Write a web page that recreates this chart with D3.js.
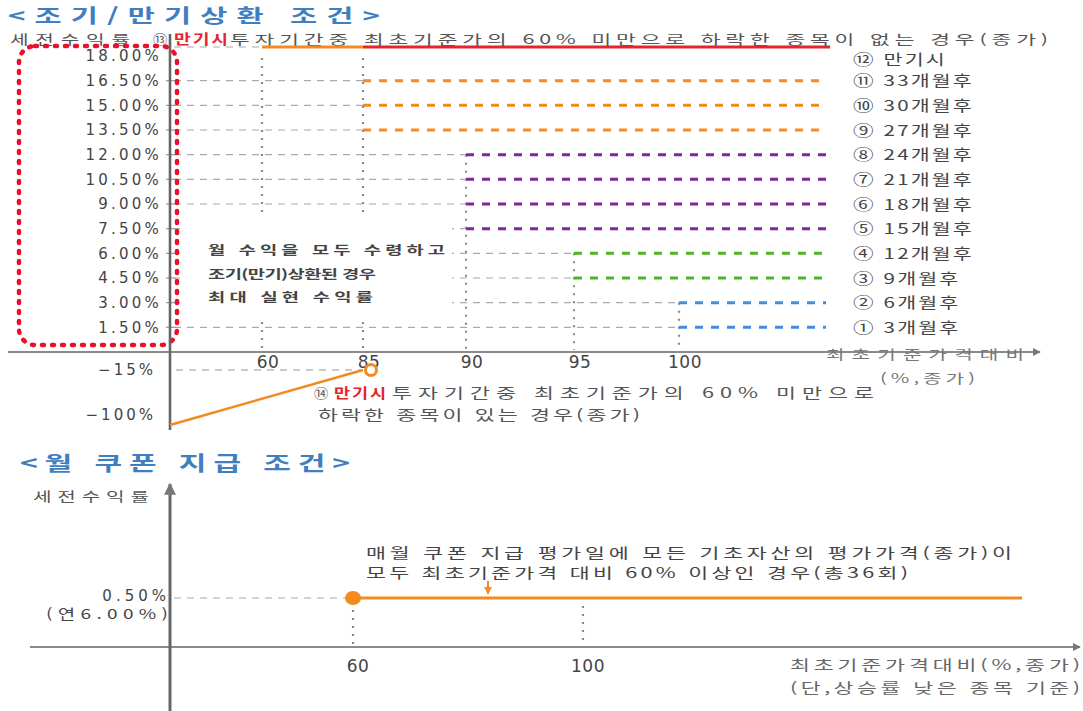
<!DOCTYPE html>
<html lang="ko">
<head>
<meta charset="utf-8">
<script src="https://d3js.org/d3.v7.min.js"></script>
<title>조기/만기상환 조건</title>
<style>
  body { margin: 0; background: #fff; }
  svg { display: block; font-family: "Noto Sans CJK KR", "DejaVu Sans", sans-serif; }
  .num { font-family: "DejaVu Sans", sans-serif; }
</style>
</head>
<body>
<div id="chart"></div>
<script>
// ---- data ----
const xTicks = [60, 85, 90, 95, 100];
const rowLabels = ["① 3개월후", "② 6개월후", "③ 9개월후", "④ 12개월후", "⑤ 15개월후", "⑥ 18개월후",
  "⑦ 21개월후", "⑧ 24개월후", "⑨ 27개월후", "⑩ 30개월후", "⑪ 33개월후", "⑫ 만기시"];
const rowYields = [1.5, 3, 4.5, 6, 7.5, 9, 10.5, 12, 13.5, 15, 16.5, 18];
const rowBarriers = [100, 100, 95, 95, 90, 90, 90, 90, 85, 85, 85, 60];
const rowColors = ["#3c8fd9", "#3c8fd9", "#4cb72a", "#4cb72a", "#7a2a9e", "#7a2a9e",
  "#7a2a9e", "#7a2a9e", "#f4891f", "#f4891f", "#f4891f", "#e3262b"];
const yTickLabels = ["1.50%", "3.00%", "4.50%", "6.00%", "7.50%", "9.00%", "10.50%", "12.00%",
  "13.50%", "15.00%", "16.50%", "18.00%"];
const lossTicks = [-15, -100];
const lossTickLabels = ["−15%", "−100%"];
const lossLine = [[0, -100], [85, -15]];
const verticalX = [60, 85, 90, 95, 100];
const verticalTop = [18, 18, 12, 6, 3];
const xEnd = 130;

const couponTicks = [60, 100];
const couponLevel = 0.5;
const couponStart = 60;
const couponEnd = 180;

const W = 1083, H = 711;
const svg = d3.select("#chart").append("svg").attr("width", W).attr("height", H);

const defs = svg.append("defs");
function arrow(id, color) {
  defs.append("marker").attr("id", id).attr("viewBox", "0 0 10 10").attr("refX", 9).attr("refY", 5)
    .attr("markerWidth", 4).attr("markerHeight", 4).attr("orient", "auto")
    .append("path").attr("d", "M0,0L10,5L0,10z").attr("fill", color);
}
arrow("arrGrey", "#777");
arrow("arrOrange", "#f4891f");

// wide korean text: glyphs stretched, then spaced out to the wanted length
function label(px, py, str, o) {
  const s = o.stretch || 1.55;
  const t = svg.append("text")
    .attr("transform", `translate(${px},${py}) scale(${s},1)`)
    .attr("font-size", o.size).attr("fill", o.color || "#555")
    .attr("font-weight", o.bold ? "bold" : null)
    .attr("text-anchor", o.anchor || "start")
    .text(str);
  if (o.len) t.attr("textLength", o.len / s).attr("lengthAdjust", "spacing");
  return t;
}

// ================= top chart =================
const x = d3.scaleLinear().domain([0, 60, 85, 90, 95, 100, xEnd]).range([170, 262, 363, 466, 574, 679, 826]);
const y = d3.scaleLinear().domain([-100, -15, 0, 18]).range([425, 370, 352, 56]);
const topOffset = -9; // the 만기시 line sits above its tick row

label(8, 22.5, "<조기/만기상환 조건>", { size: 19, bold: true, color: "#3f7fc0", len: 372, stretch: 1.55 });

// header text
label(10, 44, "세전수익률", { size: 13, len: 120 });
label(153, 44, "⑬", { size: 13, stretch: 1.1 });
label(174, 44, "만기시", { size: 14, bold: true, color: "#e3262b", len: 54, stretch: 1.3 });
label(230, 44, "투자기간중 최초기준가의 60% 미만으로 하락한 종목이 없는 경우(종가)", { size: 13, len: 818, stretch: 1.65 });

const rows = rowYields.map((v, i) => ({ v, b: rowBarriers[i], c: rowColors[i], label: rowLabels[i], last: i === rowYields.length - 1 }));
const rowY = d => y(d.v) + (d.last ? topOffset : 0);

// vertical dotted barrier lines
svg.append("g").selectAll("line").data(verticalX).join("line")
  .attr("x1", d => x(d)).attr("x2", d => x(d))
  .attr("y1", (d, i) => y(verticalTop[i]) + (verticalTop[i] === 18 ? 2 : 0)).attr("y2", y(0) - 2)
  .attr("stroke", "#888").attr("stroke-width", 2.2).attr("stroke-dasharray", "2,6");

// grey guides from axis to barrier
svg.append("g").selectAll("line").data(rows).join("line")
  .attr("x1", x(0) + 4).attr("x2", d => x(d.b))
  .attr("y1", rowY).attr("y2", rowY)
  .attr("stroke", "#aaa").attr("stroke-width", 1.2).attr("stroke-dasharray", "7,6");

// white box behind the middle note
svg.append("rect").attr("x", 180).attr("y", 214).attr("width", 272).attr("height", 102).attr("fill", "#fff");
const note = ["월 수익을 모두 수령하고", "조기(만기)상환된 경우", "최대 실현 수익률"];
const noteLen = [237, 168, 165];
note.forEach((d, i) => label(208, 255 + i * 23.5, d, { size: 12.5, bold: true, color: "#444", len: noteLen[i], stretch: 1.5 }));

// coloured early-redemption lines
svg.append("g").selectAll("line").data(rows.filter(d => !d.last)).join("line")
  .attr("x1", d => x(d.b)).attr("x2", x(xEnd))
  .attr("y1", rowY).attr("y2", rowY)
  .attr("stroke", d => d.c).attr("stroke-width", 3).attr("stroke-dasharray", "8,8");

// maturity line: orange up to 85, red beyond
const mat = rows[rows.length - 1];
svg.append("line").attr("x1", x(mat.b)).attr("x2", x(85)).attr("y1", rowY(mat)).attr("y2", rowY(mat))
  .attr("stroke", "#f4891f").attr("stroke-width", 3);
svg.append("line").attr("x1", x(85)).attr("x2", x(xEnd) + 4).attr("y1", rowY(mat)).attr("y2", rowY(mat))
  .attr("stroke", "#e3262b").attr("stroke-width", 3);

// row labels on the right
svg.append("g").selectAll("text").data(rows).join("text")
  .attr("transform", d => `translate(853,${y(d.v) + (d.last ? 3 : 0)}) scale(1.42,1)`).attr("dy", "0.38em").attr("font-size", 14.5)
  .attr("letter-spacing", 1.5).attr("fill", "#444").text(d => d.label);

// y tick labels
svg.append("g").selectAll("text").data(rowYields).join("text")
  .attr("class", "num").attr("x", 162).attr("y", d => y(d)).attr("dy", "0.35em")
  .attr("text-anchor", "end").attr("font-size", 15).attr("letter-spacing", 3.2).attr("fill", "#444")
  .text((d, i) => yTickLabels[i]);
svg.append("g").selectAll("line").data(rowYields.slice(0, -1)).join("line")
  .attr("x1", 166).attr("x2", 176).attr("y1", d => y(d)).attr("y2", d => y(d))
  .attr("stroke", "#999").attr("stroke-width", 1.2);

// red dotted frame around the yields
svg.append("rect").attr("x", 19).attr("y", 46).attr("width", 158).attr("height", 299).attr("rx", 16)
  .attr("fill", "none").attr("stroke", "#e8102a").attr("stroke-width", 4.5)
  .attr("stroke-linecap", "round").attr("stroke-dasharray", "2,8");

// loss ticks
svg.append("g").selectAll("text").data(lossTicks).join("text")
  .attr("class", "num").attr("x", 156).attr("y", d => y(d) - (d < -50 ? 10 : 0)).attr("dy", "0.35em")
  .attr("text-anchor", "end").attr("font-size", 15).attr("letter-spacing", 3).attr("fill", "#444")
  .text((d, i) => lossTickLabels[i]);
svg.append("line").attr("x1", x(0) + 6).attr("x2", x(85)).attr("y1", y(-15)).attr("y2", y(-15))
  .attr("stroke", "#999").attr("stroke-width", 1.2).attr("stroke-dasharray", "7,6");

// axes
svg.append("line").attr("x1", 8).attr("x2", 1040).attr("y1", y(0)).attr("y2", y(0))
  .attr("stroke", "#8a8a8a").attr("stroke-width", 2).attr("marker-end", "url(#arrGrey)");
svg.append("line").attr("x1", x(0)).attr("x2", x(0)).attr("y1", 430).attr("y2", 34)
  .attr("stroke", "#666").attr("stroke-width", 2.6);

svg.append("g").selectAll("text").data(xTicks).join("text")
  .attr("class", "num").attr("x", d => x(d) + 6).attr("y", 368).attr("text-anchor", "middle")
  .attr("font-size", 17).attr("letter-spacing", 0.5).attr("fill", "#444").text(d => d);

label(826, 359, "최초기준가격대비", { size: 13, color: "#777", len: 198 });
label(880, 383, "(%,종가)", { size: 13, color: "#777", len: 95 });

// loss line
svg.append("path").datum(lossLine)
  .attr("d", d3.line().x(d => x(d[0])).y(d => y(d[1])))
  .attr("fill", "none").attr("stroke", "#f4891f").attr("stroke-width", 2.5);
svg.append("circle").attr("cx", x(85) + 8).attr("cy", y(-15)).attr("r", 5.5)
  .attr("fill", "#fff").attr("stroke", "#f4891f").attr("stroke-width", 3);

label(314, 398, "⑭", { size: 13, stretch: 1.1 });
label(334, 398, "만기시", { size: 14, bold: true, color: "#e3262b", len: 52, stretch: 1.25 });
label(392, 398, "투자기간중 최초기준가의 60% 미만으로", { size: 14, len: 482 });
label(318, 420, "하락한 종목이 있는 경우(종가)", { size: 14, len: 322 });

// ================= bottom chart =================
const x2 = d3.scaleLinear().domain([0, 60, 100, couponEnd]).range([170, 353, 583, 1022]);
const y2 = d3.scaleLinear().domain([0, couponLevel]).range([647, 598]);

label(20, 471, "<월 쿠폰 지급 조건>", { size: 20, bold: true, color: "#3f7fc0", len: 330, stretch: 1.5 });
label(33, 501, "세전수익률", { size: 13, len: 116 });

svg.append("line").attr("x1", 30).attr("x2", 1080).attr("y1", y2(0)).attr("y2", y2(0))
  .attr("stroke", "#8a8a8a").attr("stroke-width", 2).attr("marker-end", "url(#arrGrey)");
svg.append("line").attr("x1", x2(0)).attr("x2", x2(0)).attr("y1", H).attr("y2", 484)
  .attr("stroke", "#666").attr("stroke-width", 3).attr("marker-end", "url(#arrGrey)");

svg.append("line").attr("x1", x2(0) + 4).attr("x2", x2(couponStart)).attr("y1", y2(couponLevel)).attr("y2", y2(couponLevel))
  .attr("stroke", "#aaa").attr("stroke-width", 1.2).attr("stroke-dasharray", "7,6");

svg.append("g").selectAll("line").data(couponTicks).join("line")
  .attr("x1", d => x2(d)).attr("x2", d => x2(d))
  .attr("y1", (d, i) => y2(couponLevel) + (i ? 8 : 4)).attr("y2", y2(0) - 2)
  .attr("stroke", "#888").attr("stroke-width", 2.2).attr("stroke-dasharray", "2,6");

svg.append("line").attr("x1", x2(couponStart)).attr("x2", x2(couponEnd)).attr("y1", y2(couponLevel)).attr("y2", y2(couponLevel))
  .attr("stroke", "#f4891f").attr("stroke-width", 3);
svg.append("ellipse").attr("cx", x2(couponStart)).attr("cy", y2(couponLevel)).attr("rx", 8).attr("ry", 7)
  .attr("fill", "#f4891f");

svg.append("text").attr("class", "num").attr("x", 170).attr("y", y2(couponLevel) + 3).attr("text-anchor", "end")
  .attr("font-size", 15).attr("letter-spacing", 4).attr("fill", "#444").text("0.50%");
label(168, y2(couponLevel) + 21, "(연6.00%)", { size: 13.5, anchor: "end", color: "#444", len: 122, stretch: 1.4 });

svg.append("g").selectAll("text").data(couponTicks).join("text")
  .attr("class", "num").attr("x", d => x2(d) + 5).attr("y", 672).attr("text-anchor", "middle")
  .attr("font-size", 17).attr("letter-spacing", 0.5).attr("fill", "#444").text(d => d);

label(366, 558, "매월 쿠폰 지급 평가일에 모든 기초자산의 평가가격(종가)이", { size: 14, color: "#444", len: 646 });
label(366, 578, "모두 최초기준가격 대비 60% 이상인 경우(총36회)", { size: 14, color: "#444", len: 542 });
svg.append("line").attr("x1", 488).attr("x2", 488).attr("y1", 581).attr("y2", 594)
  .attr("stroke", "#f4891f").attr("stroke-width", 2).attr("marker-end", "url(#arrOrange)");

label(790, 670, "최초기준가격대비(%,종가)", { size: 14, color: "#666", len: 290 });
label(790, 693, "(단,상승률 낮은 종목 기준)", { size: 14, color: "#666", len: 290 });
</script>
</body>
</html>
